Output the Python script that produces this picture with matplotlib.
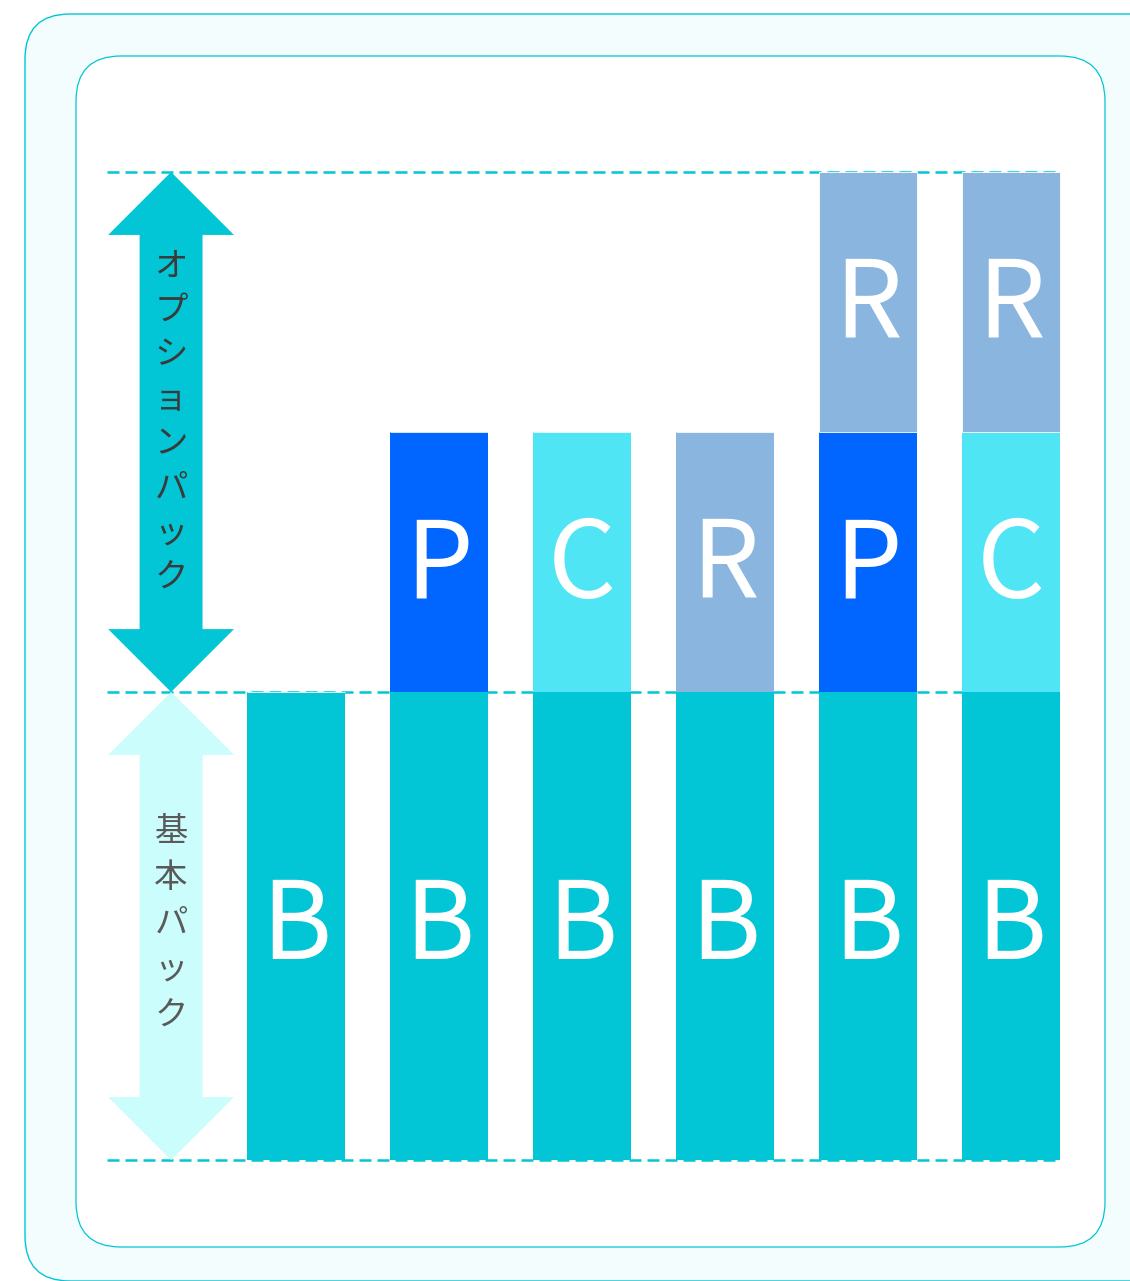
import matplotlib.pyplot as plt
from matplotlib.patches import FancyBboxPatch, Polygon

plt.rcParams['font.family'] = ['Noto Sans CJK JP', 'DejaVu Sans']

# data
columns = [0, 1, 2, 3, 4, 5]
base_vals = [1.8, 1.8, 1.8, 1.8, 1.8, 1.8]
mid_vals = [0, 1, 1, 1, 1, 1]
top_vals = [0, 0, 0, 0, 1, 1]
base_labels = ['B', 'B', 'B', 'B', 'B', 'B']
mid_labels = ['', 'P', 'C', 'R', 'P', 'C']
top_labels = ['', '', '', '', 'R', 'R']
levels = [0, 1.8, 3.8]
option_text = 'オプションパック'
basic_text = '基本パック'

pack_colors = {'B': '#02c6d5', 'P': '#0066ff', 'C': '#50e5f5', 'R': '#8ab5df'}
CYAN = '#02c6d5'
LIGHT = '#ccfdfd'

W, H = 1130, 1281
fig = plt.figure(figsize=(W / 100, H / 100), dpi=100)
fig.patch.set_facecolor('white')

# background frames (pixel coords)
bg = fig.add_axes([0, 0, 1, 1])
bg.set_xlim(0, W)
bg.set_ylim(H, 0)
bg.axis('off')
outer = FancyBboxPatch((25, 14), 1200, 1267, boxstyle='round,pad=0,rounding_size=45',
                       facecolor='#f3fdfe', edgecolor=CYAN, linewidth=1.0)
bg.add_patch(outer)
inner = FancyBboxPatch((76, 56), 1029, 1191, boxstyle='round,pad=0,rounding_size=45',
                       facecolor='white', edgecolor=CYAN, linewidth=0.9)
bg.add_patch(inner)

# data axes
ax = fig.add_axes([100 / W, (H - 1200) / H, 1010 / W, 1100 / H])
ax.set_xlim(-1.371, 5.692)
ax.set_ylim(-0.1538, 4.077)
ax.axis('off')
ax.patch.set_alpha(0)

bw = 0.685
ax.hlines(levels, -1.32, 5.34, colors=CYAN, linewidth=1.8,
          linestyles=(0, (4.8, 2.4)), zorder=1)

mid_colors = [pack_colors[l] if l else 'none' for l in mid_labels]
top_colors = [pack_colors[l] if l else 'none' for l in top_labels]
bottoms_top = [b + m for b, m in zip(base_vals, mid_vals)]

ax.bar(columns, base_vals, width=bw, color=pack_colors['B'], zorder=2)
ax.bar(columns, mid_vals, bottom=base_vals, width=bw, color=mid_colors, zorder=2)
ax.bar(columns, top_vals, bottom=bottoms_top, width=bw, color=top_colors,
       edgecolor='white', linewidth=0.6, zorder=2)

lfs = 77
for i, x in enumerate(columns):
    ax.text(x, base_vals[i] / 2 - 0.01, base_labels[i], color='white', fontsize=lfs,
            ha='center', va='center', zorder=3)
    if mid_labels[i]:
        ax.text(x, base_vals[i] + mid_vals[i] / 2 - 0.02, mid_labels[i], color='white',
                fontsize=lfs, ha='center', va='center', zorder=3)
    if top_labels[i]:
        ax.text(x, bottoms_top[i] + top_vals[i] / 2 - 0.02, top_labels[i], color='white',
                fontsize=lfs, ha='center', va='center', zorder=3)


def double_arrow(xc, y0, y1, color):
    hw, sw, hl = 0.44, 0.22, 0.242
    pts = [(xc, y1), (xc + hw, y1 - hl), (xc + sw, y1 - hl), (xc + sw, y0 + hl),
           (xc + hw, y0 + hl), (xc, y0), (xc - hw, y0 + hl), (xc - sw, y0 + hl),
           (xc - sw, y1 - hl), (xc - hw, y1 - hl)]
    ax.add_patch(Polygon(pts, closed=True, facecolor=color, edgecolor='none', zorder=2))


ax_x = -0.874
double_arrow(ax_x, levels[1], levels[2], CYAN)
double_arrow(ax_x, levels[0], levels[1], LIGHT)

ax.text(ax_x, (levels[1] + levels[2]) / 2 + 0.04, '\n'.join(option_text), color='#3a3a3a',
        fontsize=24, ha='center', va='center', linespacing=1.35, zorder=3)
ax.text(ax_x, (levels[0] + levels[1]) / 2 + 0.01, '\n'.join(basic_text), color='#5a5a5a',
        fontsize=24, ha='center', va='center', linespacing=1.41, zorder=3)

fig.savefig('out.png', dpi=100)
